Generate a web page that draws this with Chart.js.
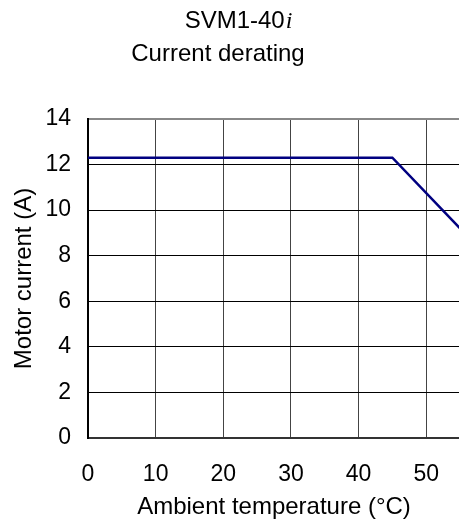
<!DOCTYPE html>
<html>
<head>
<meta charset="utf-8">
<script src="https://cdn.jsdelivr.net/npm/chart.js@4"></script>
<style>
  html, body { margin: 0; padding: 0; background: #fff; overflow: hidden; }
  #wrap { width: 462px; height: 526px; }
</style>
</head>
<body>
<div id="wrap"><canvas id="c" width="462" height="526"></canvas></div>
<script>
// derating curve
const temps = [0, 45, 55];
const current = [12.3, 12.3, 9.2];
const xTicks = [0, 10, 20, 30, 40, 50];
const titleLines = ['SVM1-40', 'Current derating'];

const FONT = "'Liberation Sans', Arial, sans-serif";

// title drawn by hand so the italic i can sit next to the text
const titlePlugin = {
    id: 'twoLineTitle',
    afterDraw(chart) {
        const ctx = chart.ctx;
        ctx.save();
        ctx.fillStyle = '#000';
        ctx.textBaseline = 'alphabetic';
        ctx.font = '24px ' + FONT;
        const w1 = ctx.measureText(titleLines[0]).width;
        ctx.font = 'italic 24px "Liberation Serif", serif';
        const wi = ctx.measureText('i').width;
        let x = 238 - (w1 + wi) / 2;
        ctx.font = '24px ' + FONT;
        ctx.textAlign = 'left';
        ctx.fillText(titleLines[0], x, 28);
        ctx.font = 'italic 24px "Liberation Serif", serif';
        ctx.fillText('i', x + w1 + 1, 28);
        ctx.font = '24px ' + FONT;
        ctx.textAlign = 'center';
        ctx.fillText(titleLines[1], 218, 61);
        ctx.restore();
    }
};

new Chart(document.getElementById('c'), {
    type: 'scatter',
    data: {
        datasets: [{
            data: temps.map((t, i) => ({x: t, y: current[i]})),
            showLine: true,
            borderColor: '#000080',
            borderWidth: 2.5,
            pointRadius: 0,
            tension: 0
        }]
    },
    options: {
        responsive: false,
        animation: false,
        devicePixelRatio: 1,
        layout: {padding: {top: 119, left: 0, right: 0, bottom: 0}},
        plugins: {legend: {display: false}, tooltip: {enabled: false}},
        scales: {
            x: {
                type: 'linear',
                min: 0,
                max: 55,
                afterBuildTicks: s => { s.ticks = xTicks.map(v => ({value: v})); },
                afterFit: s => { s.height = 88; },
                border: {color: '#333', width: 2},
                grid: {color: '#444', lineWidth: 1, drawTicks: false},
                ticks: {color: '#000', font: {family: FONT, size: 23}, padding: 23},
                title: {
                    display: true,
                    text: 'Ambient temperature (\u00B0C)',
                    color: '#000',
                    font: {family: FONT, size: 24},
                    padding: {top: 0, bottom: 4}
                }
            },
            y: {
                min: 0,
                max: 14,
                afterFit: s => { s.width = 88; },
                border: {color: '#000', width: 2},
                grid: {
                    color: ctx => ctx.tick && ctx.tick.value === 14 ? '#888' : '#000',
                    lineWidth: ctx => ctx.tick && ctx.tick.value === 14 ? 2 : 1,
                    drawTicks: false
                },
                ticks: {stepSize: 2, color: '#000', font: {family: FONT, size: 23}, padding: 17},
                title: {
                    display: true,
                    text: 'Motor current (A)',
                    color: '#000',
                    font: {family: FONT, size: 24},
                    padding: {top: 10, bottom: 0}
                }
            }
        }
    },
    plugins: [titlePlugin]
});
</script>
</body>
</html>
